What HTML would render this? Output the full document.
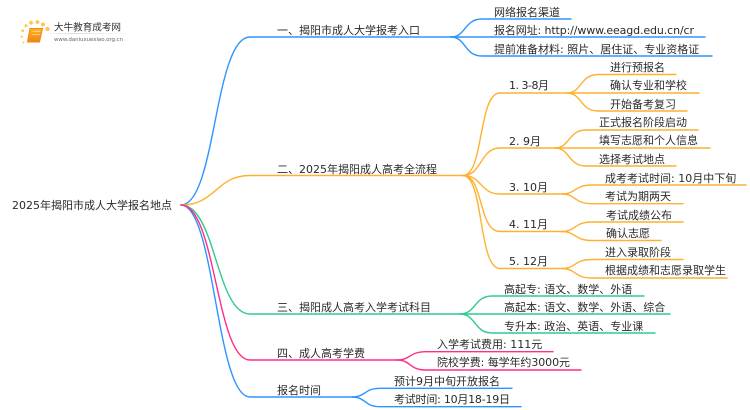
<!DOCTYPE html>
<html><head><meta charset="utf-8">
<style>
html,body{margin:0;padding:0;background:#fff;width:750px;height:410px;overflow:hidden}
svg{display:block;filter:blur(.35px)}
text{font-family:"DejaVu Sans","Noto Sans CJK SC",sans-serif;font-size:11px;fill:#2a2a2a}
path{fill:none;stroke-linecap:round}
.b path{stroke:#2f94ff}.o path{stroke:#fdb130}.g path{stroke:#2fcb8b}.p path{stroke:#ff2f86}
.m path{stroke-width:1.4}
.l path{stroke-width:1.4}
</style></head>
<body>
<svg width="750" height="410" viewBox="0 0 750 410" xmlns="http://www.w3.org/2000/svg">
<defs><linearGradient id="lg" x1="0" x2="1" y1="0" y2="0"><stop offset="0" stop-color="#ddd" stop-opacity="0"/><stop offset=".3" stop-color="#ddd"/><stop offset="1" stop-color="#ddd" stop-opacity="0"/></linearGradient>
<linearGradient id="bk" x1="0" x2="0" y1="0" y2="1"><stop offset="0" stop-color="#fdb52a"/><stop offset="1" stop-color="#ef8412"/></linearGradient></defs>
<!-- logo -->
<g fill="#fcc84a">
<circle cx="47.5" cy="29" r="2.2"/><circle cx="43" cy="24.5" r="2"/><circle cx="37.500" cy="22" r="1.900"/><circle cx="31" cy="22.700" r="1.900"/><circle cx="26" cy="25.700" r="1.500"/><circle cx="22.700" cy="30.700" r="1.300"/><circle cx="21.700" cy="36.700" r="1.100"/><circle cx="23.500" cy="42.500" r="1"/>
</g>
<path d="M30 28.500 L42.500 28.500 L39.500 42 L27.500 42 Z" style="fill:url(#bk);stroke:#ec8a16;stroke-width:1"/>
<path d="M33 31.500 L40 31.500 M32.500 34.500 L39.500 34.500" style="stroke:#ffe09a;stroke-width:.8"/>
<rect x="45" y="33" width="88" height="1" fill="url(#lg)"/>
<text x="54" y="30.500" textLength="67" style="font-size:9.600px;fill:#333">大牛教育成考网</text>
<text x="54" y="41" textLength="69" style="font-size:5.500px;fill:#666">www.daniuxuexiao.org.cn</text>

<!-- root connectors -->
<g class="m">
<g class="b"><path d="M181 205C216 205 214 37 250 37L451 37"/><path d="M181 205C215 205 216 397 250 397L352 397"/></g>
<g class="o"><path d="M181 205C216 205 216 175.500 250 175.500L463 175.500"/></g>
<g class="g"><path d="M181 205C216 205 216 314 250 314L460 314"/></g>
<g class="p"><path d="M181 205C216 205 216 360 250 360L397 360"/></g>
</g>

<g class="l">
<g class="b">
<path d="M451 37C466 37 464 19 482 19L571 19"/><path d="M451 37L705 37"/><path d="M451 37C466 37 464 56 482 56L712 56"/>
<path d="M352 397C366 397 364 388.300 380 388.300L512 388.300"/><path d="M352 397C366 397 364 406.700 380 406.700L521 406.700"/>
</g>
<g class="o">
<path d="M463 175.500C484 175.500 478 93 500 93L567 93"/>
<path d="M463 175.500C482 175.500 480 148 500 148L555 148"/>
<path d="M463 175.500C482 175.500 480 194 500 194L562 194"/>
<path d="M463 175.500C484 175.500 478 231.500 500 231.500L562 231.500"/>
<path d="M463 175.500C484 175.500 478 268.500 500 268.500L562 268.500"/>
<path d="M567 93C582 93 580 74.500 598 74.500L676 74.500"/><path d="M567 93L699 93"/><path d="M567 93C582 93 580 111 598 111L687 111"/>
<path d="M555 148C570 148 568 130 586 130L698 130"/><path d="M555 148L710 148"/><path d="M555 148C570 148 568 166 586 166L676 166"/>
<path d="M562 194C576 194 574 185 592 185L746 185"/><path d="M562 194C576 194 574 203.700 592 203.700L683 203.700"/>
<path d="M562 231.500C576 231.500 574 222 592 222L683 222"/><path d="M562 231.500C576 231.500 574 240.500 592 240.500L661 240.500"/>
<path d="M562 268.500C576 268.500 574 259.500 592 259.500L683 259.500"/><path d="M562 268.500C576 268.500 574 278 592 278L727 278"/>
</g>
<g class="g">
<path d="M460 314C476 314 474 296 492 296L644 296"/><path d="M460 314L670 314"/><path d="M460 314C476 314 474 333 492 333L655 333"/>
</g>
<g class="p">
<path d="M397 360C411 360 409 351.700 426 351.700L553 351.700"/><path d="M397 360C411 360 409 370 426 370L581 370"/>
</g>
</g>

<!-- labels -->
<text x="12" y="209">2025年揭阳市成人大学报名地点</text>
<text x="277" y="34">一、揭阳市成人大学报考入口</text>
<text x="277" y="173">二、2025年揭阳成人高考全流程</text>
<text x="277" y="311">三、揭阳成人高考入学考试科目</text>
<text x="277" y="357">四、成人高考学费</text>
<text x="277" y="394">报名时间</text>

<text x="494" y="16">网络报名渠道</text>
<text x="494" y="34" textLength="200">报名网址: http://www.eeagd.edu.cn/cr</text>
<text x="494" y="53">提前准备材料: 照片、居住证、专业资格证</text>

<text x="509" y="89" textLength="40">1. 3-8月</text>
<text x="509" y="145">2. 9月</text>
<text x="509" y="191">3. 10月</text>
<text x="509" y="228">4. 11月</text>
<text x="509" y="265">5. 12月</text>

<text x="610" y="71">进行预报名</text>
<text x="610" y="89">确认专业和学校</text>
<text x="610" y="108">开始备考复习</text>
<text x="599" y="126">正式报名阶段启动</text>
<text x="599" y="144">填写志愿和个人信息</text>
<text x="599" y="163">选择考试地点</text>
<text x="605" y="182">成考考试时间: 10月中下旬</text>
<text x="605" y="200">考试为期两天</text>
<text x="606" y="219">考试成绩公布</text>
<text x="606" y="237">确认志愿</text>
<text x="605" y="256">进入录取阶段</text>
<text x="605" y="274">根据成绩和志愿录取学生</text>

<text x="504" y="293">高起专: 语文、数学、外语</text>
<text x="504" y="311">高起本: 语文、数学、外语、综合</text>
<text x="504" y="330">专升本: 政治、英语、专业课</text>
<text x="437" y="348">入学考试费用: 111元</text>
<text x="437" y="366" textLength="133">院校学费: 每学年约3000元</text>
<text x="394" y="385">预计9月中旬开放报名</text>
<text x="394" y="403" textLength="116">考试时间: 10月18-19日</text>
</svg>
</body></html>
